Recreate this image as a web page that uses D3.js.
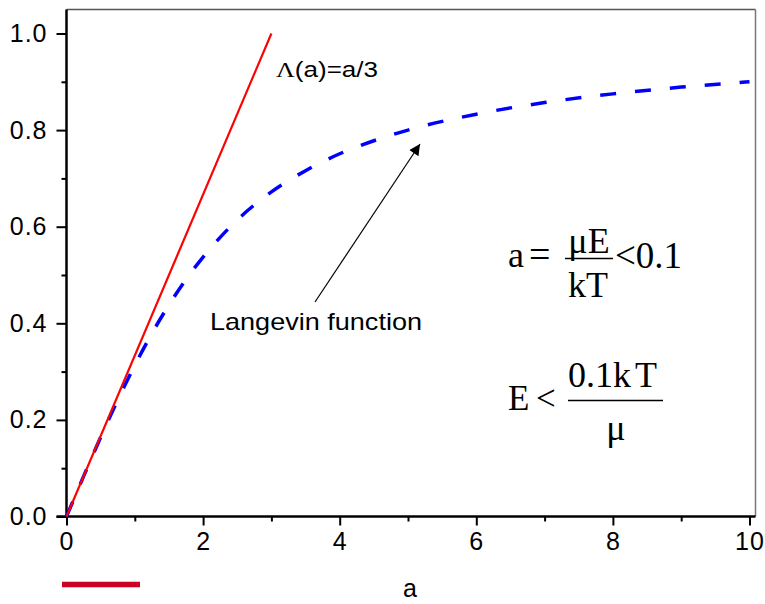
<!DOCTYPE html>
<html>
<head>
<meta charset="utf-8">
<script src="https://cdn.jsdelivr.net/npm/d3@7/dist/d3.min.js"></script>
<style>
html,body{margin:0;padding:0;background:#fff;}
svg{display:block;}
.tick text{font-family:"Liberation Sans",Arial,sans-serif;}
</style>
</head>
<body>
<svg id="chart" width="765" height="604"></svg>
<script>
// Data
const xTicks = [0, 2, 4, 6, 8, 10];
const xMinorTicks = [1, 3, 5, 7, 9];
const yTicks = [0.0, 0.2, 0.4, 0.6, 0.8, 1.0];
const yMinorTicks = [0.1, 0.3, 0.5, 0.7, 0.9];
const linearA = [0, 3];
const linearY = [0, 1];
const langevinA = [0, 0.25, 0.5, 0.75, 1, 1.25, 1.5, 1.75, 2, 2.5, 3, 3.5, 4, 4.5, 5, 6, 7, 8, 9, 10];
const langevinY = [0, 0.083, 0.164, 0.241, 0.313, 0.379, 0.438, 0.491, 0.537, 0.614, 0.672, 0.716, 0.751, 0.778, 0.800, 0.833, 0.857, 0.875, 0.889, 0.900];
const xLabel = "a";
const lineLabel = "Λ(a)=a/3";
const curveLabel = "Langevin function";

const svg = d3.select("#chart");
const x = d3.scaleLinear().domain([0, 10]).range([66.5, 749.5]);
const y = d3.scaleLinear().domain([0, 1]).range([516.5, 33.5]);

const frameLeft = 66.5, frameRight = 755.5, frameTop = 9.5, frameBottom = 516.5;

// frame (top / right in grey)
svg.append("line").attr("x1", frameLeft).attr("x2", frameRight).attr("y1", frameTop).attr("y2", frameTop)
  .attr("stroke", "#555").attr("stroke-width", 1.5);
svg.append("line").attr("x1", frameRight).attr("x2", frameRight).attr("y1", frameTop).attr("y2", frameBottom)
  .attr("stroke", "#777").attr("stroke-width", 1.5);

// x axis
const xAxis = svg.append("g").attr("transform", `translate(0,${frameBottom})`)
  .call(d3.axisBottom(x).tickValues(xTicks).tickFormat(d3.format("d")).tickSize(9).tickPadding(7));
xAxis.select(".domain").attr("d", `M${frameLeft - 10},0H${frameRight}`).attr("stroke-width", 2.5);
xAxis.selectAll(".tick line").attr("stroke-width", 2);
xAxis.selectAll(".tick text").attr("font-size", 25).attr("letter-spacing", 1).attr("fill", "#000");
svg.append("g").attr("transform", `translate(0,${frameBottom})`)
  .call(d3.axisBottom(x).tickValues(xMinorTicks).tickFormat("").tickSize(5))
  .call(g => g.select(".domain").remove())
  .selectAll("line").attr("stroke-width", 2);

// y axis
const yAxis = svg.append("g").attr("transform", `translate(${frameLeft},0)`)
  .call(d3.axisLeft(y).tickValues(yTicks).tickFormat(d3.format(".1f")).tickSize(10).tickPadding(9));
yAxis.select(".domain").attr("d", `M0,${frameBottom}V${frameTop}`).attr("stroke-width", 2.5);
yAxis.selectAll(".tick line").attr("stroke-width", 2);
yAxis.selectAll(".tick text").attr("font-size", 25).attr("letter-spacing", 1).attr("fill", "#000");
svg.append("g").attr("transform", `translate(${frameLeft},0)`)
  .call(d3.axisLeft(y).tickValues(yMinorTicks).tickFormat("").tickSize(5))
  .call(g => g.select(".domain").remove())
  .selectAll("line").attr("stroke-width", 2);

// Langevin curve (blue dashed)
const lang = langevinA.map((a, i) => [a, langevinY[i]]);
svg.append("path").datum(lang)
  .attr("d", d3.line().x(d => x(d[0])).y(d => y(d[1])).curve(d3.curveMonotoneX))
  .attr("fill", "none").attr("stroke", "#0000ff").attr("stroke-width", 3.5)
  .attr("stroke-dasharray", "16,19");

// linear line (red)
const lin = linearA.map((a, i) => [a, linearY[i]]);
svg.append("path").datum(lin)
  .attr("d", d3.line().x(d => x(d[0])).y(d => y(d[1])))
  .attr("fill", "none").attr("stroke", "#ff0000").attr("stroke-width", 2.2);

// labels
const lbl = svg.append("text").attr("x", 276).attr("y", 77)
  .attr("font-family", "'Liberation Sans',Arial,sans-serif").attr("font-size", 22).attr("fill", "#000");
lbl.append("tspan").attr("font-family", "'Liberation Serif','Times New Roman',serif").text(lineLabel.slice(0, 1));
lbl.append("tspan").text(lineLabel.slice(1));
lbl.attr("textLength", 102).attr("lengthAdjust", "spacingAndGlyphs");

svg.append("text").attr("x", 210).attr("y", 330)
  .attr("font-family", "'Liberation Sans',Arial,sans-serif").attr("font-size", 24).attr("fill", "#000")
  .attr("textLength", 212).attr("lengthAdjust", "spacingAndGlyphs")
  .text(curveLabel);

svg.append("text").attr("x", 410).attr("y", 597).attr("text-anchor", "middle")
  .attr("font-family", "'Liberation Sans',Arial,sans-serif").attr("font-size", 25).attr("fill", "#000")
  .text(xLabel);

// arrow
svg.append("defs").append("marker").attr("id", "ah").attr("viewBox", "0 0 10 10")
  .attr("refX", 10).attr("refY", 5).attr("markerWidth", 16).attr("markerHeight", 11)
  .attr("markerUnits", "userSpaceOnUse").attr("orient", "auto")
  .append("path").attr("d", "M0,0L10,5L0,10Z").attr("fill", "#000");
svg.append("line").attr("x1", 315).attr("y1", 302).attr("x2", 420).attr("y2", 144)
  .attr("stroke", "#000").attr("stroke-width", 1.2).attr("marker-end", "url(#ah)");

// formulas
const serif = "'Liberation Serif','Times New Roman',serif";
function t(xx, yy, s, size, anchor) {
  return svg.append("text").attr("x", xx).attr("y", yy).attr("font-family", serif)
    .attr("font-size", size).attr("fill", "#000").attr("text-anchor", anchor || "start").text(s);
}
t(508, 267, "a", 36);
t(529, 267, "=", 38);
t(589, 253, "μE", 36, "middle");
svg.append("line").attr("x1", 565).attr("x2", 613).attr("y1", 258.5).attr("y2", 258.5).attr("stroke", "#000").attr("stroke-width", 1.3);
t(588, 297, "kT", 36, "middle");
t(615, 268, "<0.1", 37);

t(508, 410, "E", 35);
t(536, 410, "<", 35);
const num = t(568, 387, "0.1k", 36);
num.append("tspan").attr("dx", 4).text("T");
svg.append("line").attr("x1", 568).attr("x2", 663).attr("y1", 400.5).attr("y2", 400.5).attr("stroke", "#000").attr("stroke-width", 1.3);
t(616, 440, "μ", 36, "middle");

// stray red bar below axis
svg.append("line").attr("x1", 62).attr("x2", 140).attr("y1", 584.5).attr("y2", 584.5)
  .attr("stroke", "#cc0022").attr("stroke-width", 5.5);
</script>
</body>
</html>
